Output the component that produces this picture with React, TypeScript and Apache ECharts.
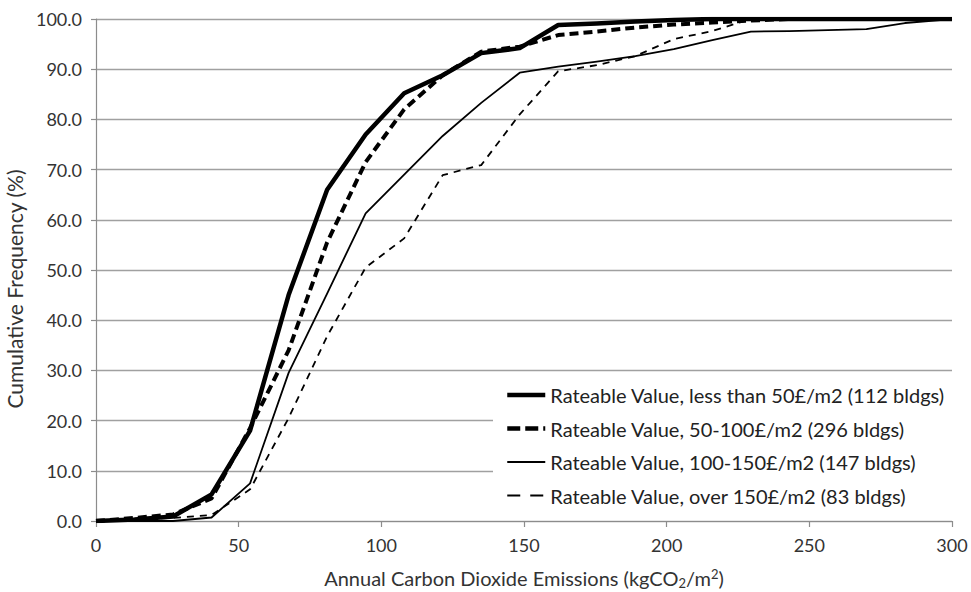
import React, { useEffect, useRef } from 'react';
import * as echarts from 'echarts';

// x positions (kgCO2/m2) of the cumulative-frequency points
const emissions = [0, 13.5, 27, 40.5, 54, 67.5, 81, 94.5, 108, 121.5, 135, 148.5, 162, 175.5, 189, 202.5, 216, 229.5, 243, 256.5, 270, 283.5, 300];

const seriesNames = [
  'Rateable Value, less than 50£/m2 (112 bldgs)',
  'Rateable Value, 50-100£/m2 (296 bldgs)',
  'Rateable Value, 100-150£/m2 (147 bldgs)',
  'Rateable Value, over 150£/m2 (83 bldgs)',
];

const lessThan50 = [0, 0.3, 0.9, 5.3, 18.0, 45, 66, 77, 85.2, 88.8, 93.2, 94.2, 98.8, 99.1, 99.5, 99.8, 100, 100, 100, 100, 100, 100, 100];
const from50to100 = [0, 0.6, 1.3, 4.5, 18.5, 34, 55.5, 71.5, 82, 88.8, 93.5, 94.5, 96.8, 97.5, 98.3, 98.9, 99.3, 99.7, 100, 100, 100, 100, 100];
const from100to150 = [0, 0, 0, 0.7, 7.5, 29.5, 45.3, 61.3, 69, 76.7, 83.3, 89.3, 90.5, 91.5, 92.6, 94.0, 95.8, 97.5, 97.6, 97.8, 98.0, 99.2, 100];
const over150 = [0, 0.3, 0.6, 1.2, 6.3, 20.5, 36.8, 50.5, 56.3, 68.9, 70.9, 81, 89.6, 90.8, 92.6, 96, 97.6, 100, 100, 100, 100, 100, 100];

const xTicks = [0, 50, 100, 150, 200, 250, 300];
const yTicks = [0, 10, 20, 30, 40, 50, 60, 70, 80, 90, 100];

const FONT = 'Lato';

export default function App() {
  const ref = useRef<HTMLDivElement>(null);
  useEffect(() => {
    const chart = echarts.init(ref.current!, null, { renderer: 'svg' });
    const pts = (vals: number[]) => emissions.map((x, i) => [x, vals[i]]);
    const styles = [
      { width: 4.5, type: 'solid' as any },
      { width: 4, type: [9, 5] as any },
      { width: 1.8, type: 'solid' as any },
      { width: 1.8, type: [7, 6] as any },
    ];
    const legendStyles = [
      { width: 4.5, type: 'solid' as any },
      { width: 4.5, type: [13, 5] as any },
      { width: 1.8, type: 'solid' as any },
      { width: 2, type: [13, 10] as any },
    ];
    const allData = [lessThan50, from50to100, from100to150, over150];
    chart.setOption({
      animation: false,
      backgroundColor: '#fff',
      grid: { left: 96, right: 19, top: 19, bottom: 71, containLabel: false, outerBoundsMode: 'none' },
      xAxis: {
        type: 'value',
        min: xTicks[0],
        max: xTicks[xTicks.length - 1],
        interval: 50,
        name: 'Annual Carbon Dioxide Emissions (kgCO{sub|2}/m{sup|2})',
        nameLocation: 'middle',
        nameGap: 46,
        nameTextStyle: {
          fontFamily: FONT,
          fontSize: 20,
          color: '#333',
          rich: {
            sub: { fontFamily: FONT, fontSize: 13, color: '#333', padding: [9, 0, 0, 0] },
            sup: { fontFamily: FONT, fontSize: 13, color: '#333', padding: [0, 0, 9, 0] },
          },
        },
        axisLine: { show: true, lineStyle: { color: '#8c8c8c', width: 1.2 } },
        axisTick: { show: true, length: 6, lineStyle: { color: '#8c8c8c', width: 1.2 } },
        axisLabel: { fontFamily: FONT, fontSize: 18, color: '#333', margin: 15 },
        splitLine: { show: false },
      },
      yAxis: {
        type: 'value',
        min: yTicks[0],
        max: yTicks[yTicks.length - 1],
        interval: 10,
        name: 'Cumulative Frequency (%)',
        nameLocation: 'middle',
        nameGap: 66,
        nameTextStyle: { fontFamily: FONT, fontSize: 21, color: '#333', padding: [0, 38, 0, 0] },
        axisLine: { show: true, lineStyle: { color: '#8c8c8c', width: 1.2 } },
        axisTick: { show: true, length: 5, lineStyle: { color: '#8c8c8c', width: 1.2 } },
        axisLabel: {
          fontFamily: FONT,
          fontSize: 18,
          color: '#333',
          margin: 14,
          formatter: (v: number) => v.toFixed(1),
        },
        splitLine: { show: true, lineStyle: { color: '#a0a0a0', width: 1.3 } },
      },
      legend: {
        orient: 'vertical',
        left: 493,
        top: 374,
        padding: [10, 12, 10, 12],
        backgroundColor: '#fff',
        itemWidth: 38,
        itemHeight: 14,
        itemGap: 11.5,
        itemStyle: { opacity: 0, borderWidth: 0 },
        textStyle: { fontFamily: FONT, fontSize: 20, color: '#222', lineHeight: 22 },
        data: seriesNames.map((name, k) => ({
          name,
          itemStyle: { opacity: 0, borderWidth: 0 },
          lineStyle: { color: '#000', width: legendStyles[k].width, type: legendStyles[k].type },
        })),
      },
      series: seriesNames.map((name, k) => ({
        name,
        type: 'line',
        data: pts(allData[k]),
        symbol: 'none',
        showSymbol: false,
        lineStyle: { color: '#000', width: styles[k].width, type: styles[k].type, join: 'round' },
        itemStyle: { color: '#000' },
      })),
    });
    return () => chart.dispose();
  }, []);
  return (
    <div
      ref={ref}
      style={{ position: 'fixed', left: 0, top: 0, width: 971, height: 592, background: '#fff' }}
    />
  );
}
